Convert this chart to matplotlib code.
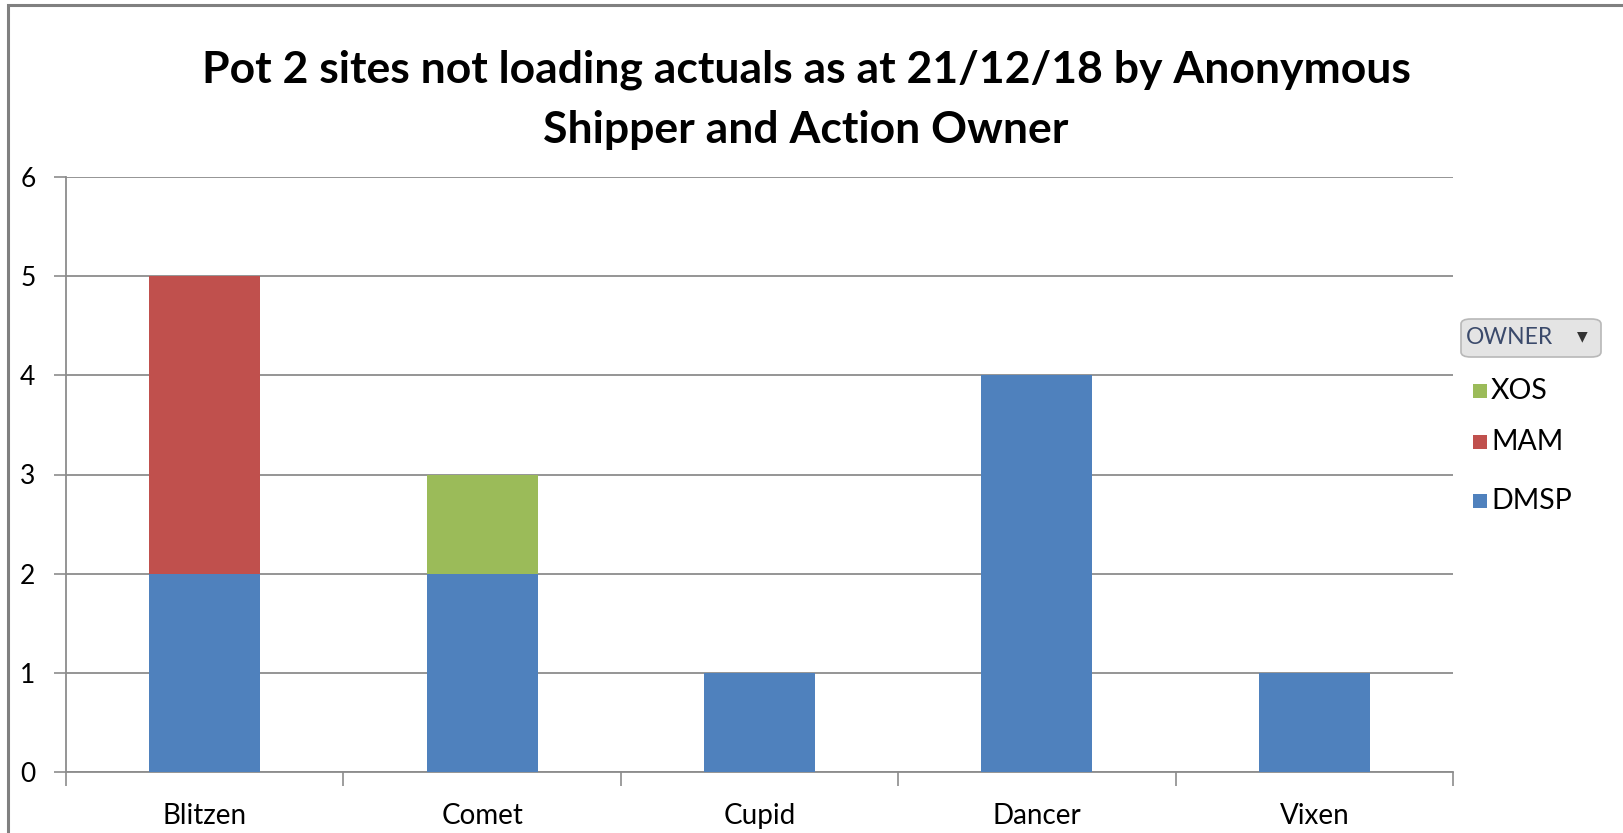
import matplotlib.pyplot as plt
from matplotlib.patches import Rectangle, FancyBboxPatch
import numpy as np

plt.rcParams['font.family'] = ['Lato', 'DejaVu Sans']

# data
shippers = ['Blitzen', 'Comet', 'Cupid', 'Dancer', 'Vixen']
owners = ['DMSP', 'MAM', 'XOS']
dmsp = [2, 2, 1, 4, 1]
mam = [3, 0, 0, 0, 0]
xos = [0, 1, 0, 0, 0]
colors = {'DMSP': '#4F81BD', 'MAM': '#C0504D', 'XOS': '#9BBB59'}
title = 'Pot 2 sites not loading actuals as at 21/12/18 by Anonymous\nShipper and Action Owner'

W, H = 1623, 833
fig = plt.figure(figsize=(W / 100, H / 100), dpi=100, facecolor='white')
ax = fig.add_axes([66 / W, 1 - 772 / H, (1453 - 66) / W, (772 - 177) / H])

x = np.arange(len(shippers))
series = {'DMSP': dmsp, 'MAM': mam, 'XOS': xos}
bottom = np.zeros(len(shippers))
for name in owners:
    vals = np.array(series[name], dtype=float)
    ax.bar(x, vals, width=0.4, bottom=bottom, color=colors[name], zorder=3)
    bottom += vals

ax.set_xlim(-0.5, len(shippers) - 0.5)
ax.set_ylim(0, 6)
ax.set_yticks(range(7))
ax.set_xticks(x)
ax.set_xticklabels(shippers)
ax.set_xticks(np.arange(-0.5, len(shippers)), minor=True)
ax.yaxis.grid(True, color='#8c8c8c', linewidth=1.3, zorder=0)
ax.tick_params(axis='y', which='major', length=9, width=1.2, color='#8c8c8c',
               labelsize=19, pad=13, labelcolor='black')
ax.tick_params(axis='x', which='major', length=0, labelsize=20, pad=22)
ax.tick_params(axis='x', which='minor', length=10, width=1.2, color='#8c8c8c')
for s in ['top', 'right']:
    ax.spines[s].set_visible(False)
for s in ['left', 'bottom']:
    ax.spines[s].set_color('#8c8c8c')
    ax.spines[s].set_linewidth(1.3)

fig.text(0.5 * (198 + 1414) / W, 1 - 100 / H, title, ha='center', va='center',
         fontsize=32, fontweight='bold', linespacing=1.6)

# outer frame
fig.patches.append(Rectangle((8 / W, -0.01), 1.1, 1 - 5 / H + 0.01, transform=fig.transFigure,
                             fill=False, edgecolor='#808080', linewidth=2.2))

# legend header button
btn = FancyBboxPatch((1461 / W, 1 - 357 / H), 140 / W, 38 / H,
                     boxstyle='round,pad=0,rounding_size=0.006', transform=fig.transFigure,
                     facecolor='#e4e4e4', edgecolor='#b8b8b8', linewidth=1.2)
fig.patches.append(btn)
fig.text(1466 / W, 1 - 338 / H, 'OWNER', ha='left', va='center', fontsize=16.5, color='#3b4a6b')
fig.text(1582 / W, 1 - 336 / H, '\u25BC', ha='center', va='center', fontsize=10,
         color='#333333', family=['DejaVu Sans'])

legend_y = {'XOS': 391, 'MAM': 442, 'DMSP': 501}
for name in ['XOS', 'MAM', 'DMSP']:
    y = legend_y[name]
    fig.patches.append(Rectangle((1473 / W, 1 - (y + 7) / H), 14 / W, 14 / H,
                                 transform=fig.transFigure, facecolor=colors[name], edgecolor='none'))
    fig.text(1491 / W, 1 - y / H, name, ha='left', va='center', fontsize=20.5)

fig.savefig('out.png', dpi=100, facecolor='white')
